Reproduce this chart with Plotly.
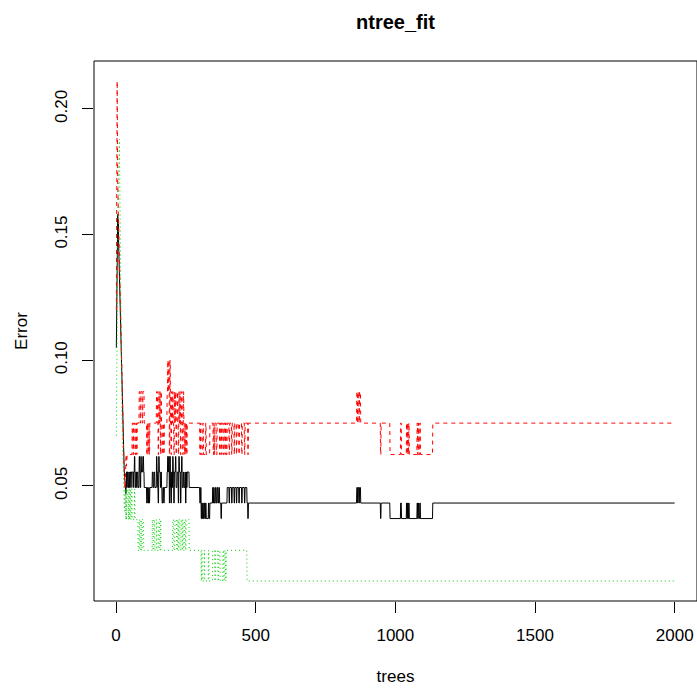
import numpy as np
import plotly.graph_objects as go

n_trees = 2000
class1_size = 80
class2_size = 82
total_size = 162

# Error rates for the first 40 trees (not all samples OOB yet)
oob_early = [0.105, 0.125, 0.133, 0.142, 0.152, 0.158, 0.150, 0.156, 0.148, 0.143,
             0.138, 0.132, 0.127, 0.121, 0.116, 0.110, 0.104, 0.099, 0.094, 0.089,
             0.084, 0.080, 0.076, 0.072, 0.068, 0.065, 0.062, 0.059, 0.057, 0.055,
             0.053, 0.051, 0.049, 0.048, 0.047, 0.049, 0.0494, 0.0556, 0.0494, 0.0556]
class1_early = [0.120, 0.150, 0.185, 0.2111, 0.190, 0.170, 0.162, 0.166, 0.155, 0.150,
                0.146, 0.140, 0.136, 0.130, 0.126, 0.120, 0.115, 0.108, 0.100, 0.095,
                0.090, 0.088, 0.085, 0.080, 0.074, 0.068, 0.064, 0.060, 0.057, 0.054,
                0.051, 0.049, 0.050, 0.055, 0.057, 0.0625, 0.058, 0.0625, 0.0625, 0.0625]
class2_early = [0.070, 0.095, 0.110, 0.130, 0.140, 0.150, 0.160, 0.168, 0.176, 0.182,
                0.186, 0.188, 0.176, 0.160, 0.145, 0.130, 0.118, 0.105, 0.095, 0.086,
                0.078, 0.072, 0.066, 0.060, 0.056, 0.052, 0.048, 0.046, 0.043, 0.040,
                0.042, 0.045, 0.0488, 0.045, 0.0366, 0.0488, 0.0366, 0.0366, 0.0488, 0.0366]

# From tree 41 on: run-length segments of misclassified counts
seg_start = [41, 43, 46, 48, 50, 53, 55,
             58, 61, 63, 66, 68, 71, 74, 76, 79,
             83, 85, 87, 89, 91, 94, 96, 99, 101,
             104, 110, 112, 114, 117, 119, 121,
             130, 133, 136, 139,
             145, 147, 149, 151, 153, 155, 157, 159, 161, 163,
             165, 168, 171, 173,
             183, 185, 187, 189, 191, 193, 195, 197, 199,
             201, 203, 205, 207, 209, 211, 213, 215, 217, 219, 221, 223, 225, 227, 229, 231, 233, 235, 237, 239, 241, 243,
             245, 247, 249, 251, 253, 255, 262,
             300, 303, 305, 307, 309, 311, 313, 316, 318, 321, 323, 331, 333, 336,
             346, 348, 350, 352, 354, 356, 359, 362, 365, 368, 371,
             373, 376, 378, 383, 386, 390, 392, 395,
             398, 405, 407, 414, 416, 423, 425, 431, 433, 440, 442, 450, 452, 460, 462,
             469, 472, 474,
             862, 865, 867, 870, 872, 876,
             947, 949, 981, 1019, 1022, 1040, 1042, 1044, 1046, 1048, 1050,
             1078, 1080, 1083, 1085, 1088, 1090, 1134]
class1_wrong = [5, 5, 5, 5, 5, 5, 5,
                6, 5, 6, 6, 5, 6, 5, 6, 6,
                7, 7, 6, 7, 7, 6, 7, 7, 6,
                6, 5, 6, 5, 6, 5, 6,
                6, 6, 6, 6,
                7, 7, 6, 5, 7, 6, 7, 5, 7, 6,
                5, 6, 5, 6,
                7, 8, 7, 8, 5, 8, 6, 5, 7,
                6, 7, 6, 5, 7, 6, 7, 5, 6, 7, 6, 5, 7, 6, 7, 5, 6, 7, 6, 5, 7, 6,
                5, 6, 5, 6, 5, 6, 6,
                5, 6, 5, 5, 5, 6, 5, 5, 5, 6, 5, 5, 5, 6,
                6, 5, 6, 5, 6, 6, 5, 6, 6, 6, 5,
                6, 5, 6, 5, 6, 5, 6, 5,
                6, 5, 6, 5, 6, 5, 6, 5, 6, 5, 6, 5, 6, 5, 6,
                6, 5, 6,
                7, 6, 7, 6, 7, 6,
                5, 6, 5, 6, 5, 6, 5, 6, 5, 6, 5,
                6, 5, 6, 5, 6, 5, 6]
class2_wrong = [4, 3, 4, 3, 4, 3, 4,
                3, 3, 3, 4, 3, 3, 3, 3, 2,
                3, 2, 2, 3, 2, 3, 3, 2, 2,
                2, 2, 2, 2, 2, 2, 2,
                3, 2, 3, 2,
                3, 2, 2, 2, 3, 3, 2, 3, 2, 2,
                2, 2, 2, 2,
                2, 2, 2, 2, 2, 2, 2, 2, 2,
                2, 3, 3, 2, 2, 3, 3, 3, 2, 2, 3, 2, 3, 3, 2, 2, 3, 3, 2, 3, 2, 2,
                3, 3, 2, 3, 3, 3, 2,
                2, 2, 1, 2, 1, 1, 1, 2, 1, 1, 1, 2, 1, 1,
                2, 2, 2, 2, 1, 2, 2, 2, 1, 2, 2,
                1, 1, 1, 2, 1, 2, 1, 2,
                2, 2, 2, 2, 2, 2, 2, 2, 2, 2, 2, 2, 2, 2, 2,
                1, 1, 1,
                1, 1, 1, 1, 1, 1,
                1, 1, 1, 1, 1, 1, 1, 1, 1, 1, 1,
                1, 1, 1, 1, 1, 1, 1]
oob_wrong = [9, 8, 9, 8, 9, 8, 9,
             9, 8, 9, 10, 8, 9, 8, 9, 8,
             10, 9, 8, 10, 9, 9, 10, 9, 8,
             8, 7, 8, 7, 8, 7, 8,
             9, 8, 9, 8,
             10, 9, 8, 7, 10, 9, 9, 8, 9, 8,
             7, 8, 7, 8,
             9, 10, 9, 10, 7, 10, 8, 7, 9,
             8, 10, 9, 7, 9, 9, 10, 8, 8, 9, 9, 7, 10, 9, 9, 7, 9, 10, 8, 8, 9, 8,
             8, 9, 7, 9, 8, 9, 8,
             7, 8, 6, 7, 6, 7, 6, 7, 6, 7, 6, 7, 6, 7,
             8, 7, 8, 7, 7, 8, 7, 8, 7, 8, 7,
             7, 6, 7, 7, 7, 7, 7, 7,
             8, 7, 8, 7, 8, 7, 8, 7, 8, 7, 8, 7, 8, 7, 8,
             7, 6, 7,
             8, 7, 8, 7, 8, 7,
             6, 7, 6, 7, 6, 7, 6, 7, 6, 7, 6,
             7, 6, 7, 6, 7, 6, 7]

seg_len = np.diff(seg_start + [n_trees + 1])
oob = np.concatenate([oob_early, np.repeat(np.array(oob_wrong) / total_size, seg_len)])
class1 = np.concatenate([class1_early, np.repeat(np.array(class1_wrong) / class1_size, seg_len)])
class2 = np.concatenate([class2_early, np.repeat(np.array(class2_wrong) / class2_size, seg_len)])
trees = np.arange(1, n_trees + 1)

FONT = "Liberation Sans, Arial, Helvetica, sans-serif"

fig = go.Figure()
fig.add_trace(go.Scatter(x=trees, y=oob, mode="lines", name="OOB",
                         line=dict(color="black", width=1, dash="solid")))
fig.add_trace(go.Scatter(x=trees, y=class1, mode="lines", name="1",
                         line=dict(color="#FF0000", width=1, dash="4px,4px")))
fig.add_trace(go.Scatter(x=trees, y=class2, mode="lines", name="2",
                         line=dict(color="#00CD00", width=1, dash="1px,3px")))

xmin, xmax = 1, n_trees
ymin, ymax = float(min(class2.min(), oob.min())), float(class1.max())
xpad = 0.04 * (xmax - xmin)
ypad = 0.04 * (ymax - ymin)

fig.update_layout(
    width=697, height=688,
    margin=dict(l=94, r=0, t=61, b=87),
    plot_bgcolor="white", paper_bgcolor="white",
    showlegend=False,
    font=dict(family=FONT, size=17, color="black"),
    title=dict(text="<b>ntree_fit</b>", x=0.5, xref="paper", xanchor="center",
               y=1 - 22 / 688, yref="container", yanchor="middle",
               font=dict(family=FONT, size=20, color="black")),
    xaxis=dict(range=[xmin - xpad, xmax + xpad], tickvals=[0, 500, 1000, 1500, 2000],
               ticktext=["0", "500", "1000", "1500", "2000"],
               ticks="outside", ticklen=11, tickwidth=1, tickcolor="black",
               showgrid=False, zeroline=False, showline=False,
               tickfont=dict(family=FONT, size=17, color="black"),
               ticklabelstandoff=8,
               title=dict(text="trees", standoff=25,
                          font=dict(family=FONT, size=17, color="black"))),
    yaxis=dict(range=[ymin - ypad, ymax + ypad], tickvals=[0.05, 0.10, 0.15, 0.20],
               ticktext=["0.05", "0.10", "0.15", "0.20"], tickangle=-90,
               ticks="outside", ticklen=11, tickwidth=1, tickcolor="black",
               showgrid=False, zeroline=False, showline=False,
               tickfont=dict(family=FONT, size=17, color="black"),
               ticklabelstandoff=8,
               title=dict(text="Error", standoff=20,
                          font=dict(family=FONT, size=17, color="black"))),
    shapes=[dict(type="rect", xref="paper", yref="paper", x0=0, x1=1, y0=0, y1=1,
                 line=dict(color="black", width=1), fillcolor="rgba(0,0,0,0)")],
)

fig.write_html("out.html")
